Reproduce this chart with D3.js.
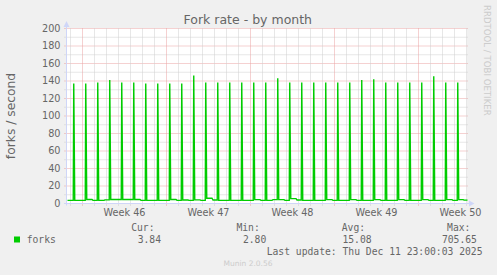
<html>
<head>
  <meta charset="utf-8">
  <script src="https://d3js.org/d3.v7.min.js"></script>
  <style>
    body { margin: 0; background: #f0f0f0; }
    text { font-family: "DejaVu Sans", sans-serif; fill: #666666; }
    .mono { font-family: "DejaVu Sans Mono", monospace; }
  </style>
</head>
<body>
  <svg id="chart" width="497" height="275"></svg>
  <script>
    // data
    const yTicks = [0, 20, 40, 60, 80, 100, 120, 140, 160, 180, 200];
    const weekLabels = ["Week 46", "Week 47", "Week 48", "Week 49", "Week 50"];
    // daily fork peak (one 2h sample per day)
    const spikeValues = [137, 137, 138.3, 141, 138.3, 138.3, 137, 137, 137, 137, 146.3,
      138.3, 138.3, 138.3, 138.3, 138.3, 138.3, 143.2, 138.3, 138.3, 138.3, 138.3,
      138.3, 138.3, 141, 142, 138.3, 138.3, 138.3, 138.3, 145.5, 138.3, 138.3];
    // baseline between peaks, first and second half of each gap
    const baseFirst = [3.6, 3.6, 4.6, 3.6, 4.6, 4.6, 4.6, 3.6, 3.6, 4.6, 4.0, 4.2, 6.0, 3.6, 3.6, 3.6, 4.4,
      3.6, 4.4, 5.6, 3.6, 3.6, 4.4, 3.6, 4.4, 3.6, 4.4, 3.6, 4.4, 3.6, 4.4, 3.6, 4.4, 4.4];
    const baseSecond = [3.6, 3.6, 3.6, 4.2, 4.6, 4.6, 3.6, 3.6, 3.6, 3.6, 3.6, 3.6, 4.0, 3.6, 3.6, 3.6, 3.6,
      4.4, 3.6, 4.0, 3.6, 3.6, 3.6, 3.6, 3.6, 3.6, 3.6, 3.6, 3.6, 3.6, 3.6, 3.6, 3.6, 3.84];
    const legendHeads = ["Cur:", "Min:", "Avg:", "Max:"];
    const legendValues = ["3.84", "2.80", "15.08", "705.65"];

    const svg = d3.select("svg#chart");
    const H = 3600e3;
    const start = Date.UTC(2025, 10, 8, 18, 0);
    const end = start + 400 * 2 * H;
    const firstSpike = Date.UTC(2025, 10, 9, 6, 30);

    const x = d3.scaleUtc().domain([start, end]).range([67.5, 467.5]);
    const y = d3.scaleLinear().domain([0, 200]).range([203.5, 28.5]);

    // canvas
    svg.append("rect")
      .attr("x", x.range()[0] - 0.5).attr("y", y(200) - 0.5)
      .attr("width", x.range()[1] - x.range()[0]).attr("height", y(0) - y(200))
      .attr("fill", "#fff");

    const grid = svg.append("g");
    const minorColor = "#cfcfcf";
    const majorColor = "#eba3a3";

    // horizontal grid
    d3.range(10, 200, 10).filter(v => !yTicks.includes(v)).forEach(v => {
      grid.append("line").attr("x1", 64.5).attr("x2", 467.5).attr("y1", y(v)).attr("y2", y(v))
        .attr("stroke", minorColor).attr("stroke-dasharray", "1,1");
    });
    yTicks.filter(v => v > 0).forEach(v => {
      grid.append("line").attr("x1", 64.5).attr("x2", 467.5).attr("y1", y(v)).attr("y2", y(v))
        .attr("stroke", majorColor).attr("stroke-dasharray", "1,1");
    });

    // vertical grid: days and weeks
    const days = d3.utcDay.range(start, end);
    const weeks = d3.utcMonday.range(start, end);
    days.filter(d => d.getUTCDay() !== 1).forEach(d => {
      grid.append("line").attr("x1", x(d)).attr("x2", x(d)).attr("y1", y(200)).attr("y2", y(0) + 2)
        .attr("stroke", minorColor).attr("stroke-dasharray", "1,1");
    });
    weeks.forEach(d => {
      grid.append("line").attr("x1", x(d)).attr("x2", x(d)).attr("y1", y(200)).attr("y2", y(0) + 2)
        .attr("stroke", majorColor).attr("stroke-dasharray", "1,1");
    });

    // series points
    const spikeTime = i => firstSpike + i * 24 * H;
    let points = [];
    for (let k = 0; k <= spikeValues.length; k++) {
      const s = k === 0 ? start : spikeTime(k - 1) + 2 * H;
      const e = k === spikeValues.length ? end : spikeTime(k) - H;
      const m = (s + e) / 2;
      points.push([s, baseFirst[k]], [m, baseFirst[k]], [m + 2 * H, baseSecond[k]], [e, baseSecond[k]]);
      if (k < spikeValues.length) points.push([spikeTime(k), spikeValues[k]]);
    }

    svg.append("path")
      .datum(points)
      .attr("fill", "none")
      .attr("stroke", "#00cc00")
      .attr("stroke-width", 1.4)
      .attr("d", d3.line().x(d => x(d[0])).y(d => y(d[1])));

    // axes
    const axisColor = "#cfd6f8";
    svg.append("line").attr("x1", 66.5).attr("x2", 66.5).attr("y1", y(0) + 2).attr("y2", 25)
      .attr("stroke", axisColor);
    svg.append("line").attr("x1", 64).attr("x2", 470).attr("y1", y(0)).attr("y2", y(0))
      .attr("stroke", axisColor);
    svg.append("path").attr("d", "M63.5,27 L66.5,21 L69.5,27 Z").attr("fill", axisColor);
    svg.append("path").attr("d", "M469,200.5 L474.5,203.5 L469,206.5 Z").attr("fill", axisColor);

    // y labels
    svg.selectAll("text.ylab").data(yTicks).join("text")
      .attr("class", "ylab")
      .attr("x", 60.5).attr("y", d => y(d)).attr("dy", "0.36em")
      .attr("text-anchor", "end")
      .style("font-size", "9.7px")
      .text(d => d);

    // week labels, centred in each week
    svg.selectAll("text.xlab").data(weeks).join("text")
      .attr("class", "xlab")
      .attr("x", d => x(d3.utcHour.offset(d, 84))).attr("y", 212.7).attr("dy", "0.36em")
      .attr("text-anchor", "middle")
      .style("font-size", "9.7px")
      .text((d, i) => weekLabels[i]);

    // title, unit, watermark
    svg.append("text").attr("x", 247.8).attr("y", 24.4).attr("text-anchor", "middle")
      .style("font-size", "12.5px").text("Fork rate - by month");
    svg.append("text").attr("transform", "translate(15,116) rotate(-90)")
      .attr("text-anchor", "middle")
      .style("font-size", "12.3px").text("forks / second");
    svg.append("text").attr("transform", "translate(484.3,5) rotate(90)")
      .style("font-size", "8.6px").style("fill", "#cccccc").text("RRDTOOL / TOBI OETIKER");

    // legend
    svg.append("rect").attr("x", 14).attr("y", 236.5).attr("width", 6).attr("height", 6).attr("fill", "#00cc00");
    svg.append("text").attr("class", "mono").attr("x", 26.7).attr("y", 239.5).attr("dy", "0.36em")
      .style("font-size", "9.7px").text("forks");
    legendHeads.forEach((h, i) => {
      svg.append("text").attr("class", "mono").attr("x", 154.5 + 105.3 * i).attr("y", 227.5).attr("dy", "0.36em")
        .attr("text-anchor", "end").style("font-size", "9.7px").text(h);
      svg.append("text").attr("class", "mono").attr("x", 161 + 105.3 * i).attr("y", 239.5).attr("dy", "0.36em")
        .attr("text-anchor", "end").style("font-size", "9.7px").text(legendValues[i]);
    });
    svg.append("text").attr("class", "mono").attr("x", 482.5).attr("y", 251.8).attr("dy", "0.36em")
      .attr("text-anchor", "end").style("font-size", "9.7px").text("Last update: Thu Dec 11 23:00:03 2025");
    svg.append("text").attr("x", 248).attr("y", 263.7).attr("dy", "0.36em").attr("text-anchor", "middle")
      .style("font-size", "7.5px").style("fill", "#cccccc").text("Munin 2.0.56");
  </script>
</body>
</html>
